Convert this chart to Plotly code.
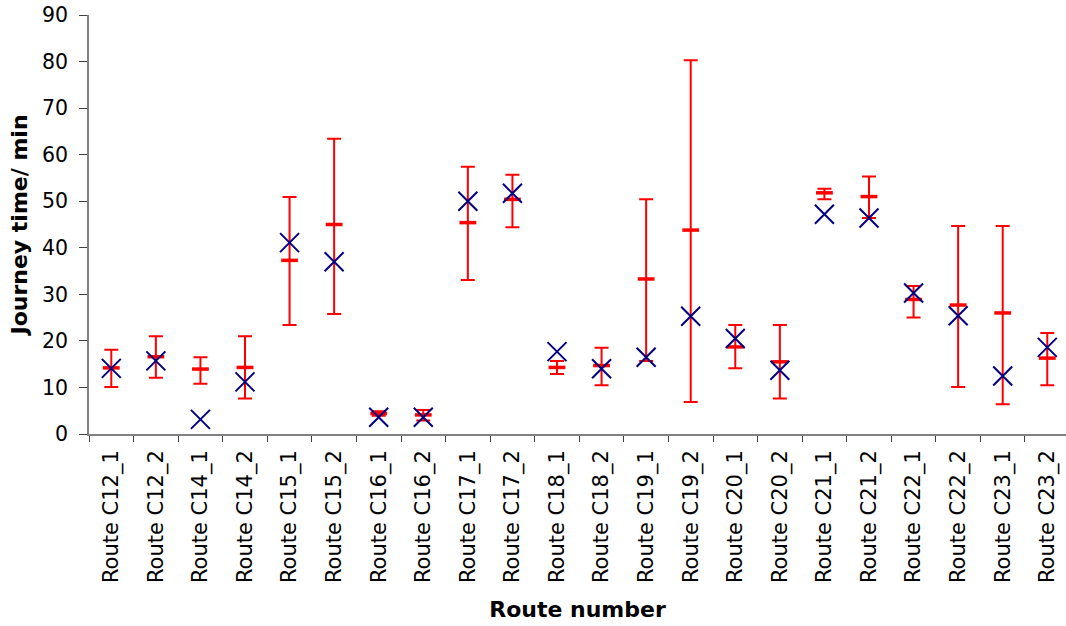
import plotly.graph_objects as go

routes = ["Route C12_1", "Route C12_2", "Route C14_1", "Route C14_2", "Route C15_1", "Route C15_2",
          "Route C16_1", "Route C16_2", "Route C17_1", "Route C17_2", "Route C18_1", "Route C18_2",
          "Route C19_1", "Route C19_2", "Route C20_1", "Route C20_2", "Route C21_1", "Route C21_2",
          "Route C22_1", "Route C22_2", "Route C23_1", "Route C23_2"]

# predicted mean (red dash) with upper / lower bounds (error bar ends)
mean_time = [14.2, 16.6, 13.95, 14.3, 37.3, 45.0, 4.4, 4.1, 45.4, 50.4, 14.3, 14.7,
             33.3, 43.8, 18.7, 15.5, 51.8, 51.0, 28.9, 27.7, 26.0, 16.3]
upper_time = [18.1, 21.0, 16.5, 21.0, 50.9, 63.4, 4.9, 5.15, 57.4, 55.7, 15.7, 18.5,
              50.4, 80.3, 23.4, 23.4, 52.7, 55.3, 31.8, 44.7, 44.7, 21.7]
lower_time = [10.1, 12.1, 10.8, 7.65, 23.4, 25.8, 3.9, 2.9, 33.1, 44.4, 12.9, 10.45,
              15.7, 6.9, 14.1, 7.65, 50.4, 46.4, 25.0, 10.1, 6.4, 10.45]
# observed journey time (blue crosses)
observed_time = [14.1, 15.7, 3.15, 11.2, 41.1, 37.0, 3.6, 3.6, 50.0, 51.7, 17.7, 14.0,
                 16.5, 25.3, 20.5, 13.7, 47.2, 46.4, 30.3, 25.4, 12.45, 18.6]

err_plus = [u - m for u, m in zip(upper_time, mean_time)]
err_minus = [m - l for m, l in zip(mean_time, lower_time)]

font_family = "DejaVu Sans"

fig = go.Figure()
fig.add_trace(go.Scatter(
    x=routes, y=mean_time, mode="markers",
    marker=dict(symbol="line-ew", size=12, color="#ff0000",
                line=dict(color="#ff0000", width=3.5)),
    error_y=dict(type="data", symmetric=False, array=err_plus, arrayminus=err_minus,
                 color="#ff0000", thickness=2, width=7),
    showlegend=False, cliponaxis=False,
))
fig.add_trace(go.Scatter(
    x=routes, y=observed_time, mode="markers",
    marker=dict(symbol="x-thin", size=19, color="#000080",
                line=dict(color="#000080", width=2)),
    showlegend=False, cliponaxis=False,
))

fig.update_layout(
    width=1066, height=626,
    margin=dict(l=89, r=0, t=15, b=192),
    paper_bgcolor="white", plot_bgcolor="white",
    font=dict(family=font_family, color="black"),
)
fig.update_xaxes(
    type="category", range=[-0.5, 21.42],
    tickangle=-90, tickfont=dict(size=21, family=font_family, color="black"),
    ticklabelstandoff=6,
    showline=True, linecolor="#808080", linewidth=1.5,
    ticks="outside", tickson="boundaries", ticklen=6, tickcolor="#404040",
    showgrid=False, zeroline=False,
    title=dict(text="<b>Route number</b>", font=dict(size=22, family=font_family), standoff=20),
)
fig.update_yaxes(
    range=[0, 90], dtick=10, tick0=0,
    tickfont=dict(size=20.5, family=font_family, color="black"),
    ticklabelstandoff=7,
    showline=True, linecolor="#808080", linewidth=1.5,
    ticks="outside", ticklen=8, tickcolor="#404040",
    showgrid=False, zeroline=False,
    title=dict(text="<b>Journey time/ min</b>", font=dict(size=22, family=font_family), standoff=8),
)

fig.write_html(
    "out.html",
    config={"displayModeBar": False},
    post_script="document.body.style.margin='0';document.body.style.overflow='hidden';",
)
